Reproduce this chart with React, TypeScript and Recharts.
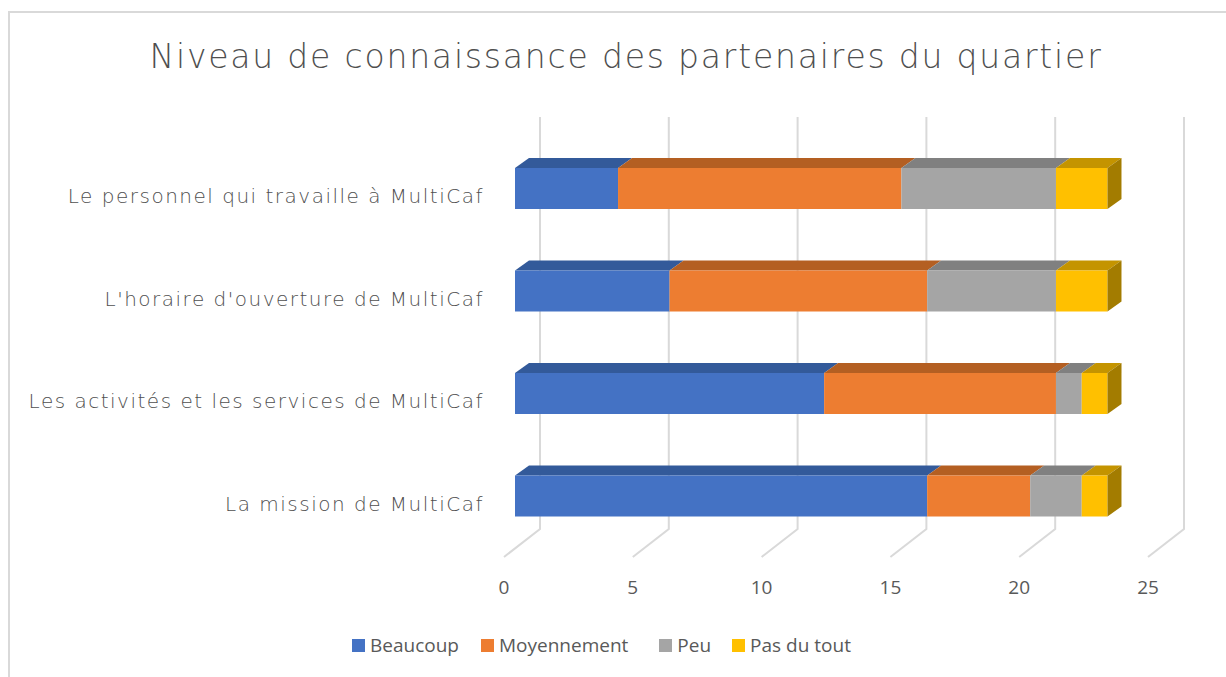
import React from "react";
import { BarChart, Bar, XAxis, YAxis, CartesianGrid, Legend } from "recharts";

const categories = [
  "Le personnel qui travaille à MultiCaf",
  "L'horaire d'ouverture de MultiCaf",
  "Les activités et les services de MultiCaf",
  "La mission de MultiCaf",
];
const beaucoup = [4, 6, 12, 16];
const moyennement = [11, 10, 9, 4];
const peu = [6, 5, 1, 2];
const pasDuTout = [2, 2, 1, 1];
const xTicks = [0, 5, 10, 15, 20, 25];
const title = "Niveau de connaissance des partenaires du quartier";

const series = [
  { key: "beaucoup", name: "Beaucoup", front: "#4472C4", top: "#335A9A", side: "#2F5597" },
  { key: "moyennement", name: "Moyennement", front: "#ED7D31", top: "#B45F22", side: "#B45F22" },
  { key: "peu", name: "Peu", front: "#A5A5A5", top: "#808080", side: "#7A7A7A" },
  { key: "pasDuTout", name: "Pas du tout", front: "#FFC000", top: "#C49400", side: "#A37C00" },
];

const data = categories.map((name, i) => ({
  name,
  beaucoup: beaucoup[i],
  moyennement: moyennement[i],
  peu: peu[i],
  pasDuTout: pasDuTout[i],
}));

const DX = 14;
const DY = 10;
const TEXT = "#595959";
const FONT = "'DejaVu Sans', sans-serif";
const FONT2 = "'Open Sans', sans-serif";

const makeShape = (top: string, side: string, withSide: boolean) => (props: any) => {
  const { x, y, width, height, fill } = props;
  if (!width || width <= 0) return <g />;
  const topPts = `${x},${y} ${x + width},${y} ${x + width + DX},${y - DY} ${x + DX},${y - DY}`;
  const sidePts = `${x + width},${y} ${x + width + DX},${y - DY} ${x + width + DX},${y + height - DY} ${x + width},${y + height}`;
  return (
    <g>
      <polygon points={topPts} fill={top} />
      <rect x={x} y={y} width={width} height={height} fill={fill} />
      {withSide && <polygon points={sidePts} fill={side} />}
    </g>
  );
};

const gridLine = (p: any) => {
  const { x1, y1, y2 } = p;
  return (
    <path
      d={`M${x1 + 25},${y1 - 20} V${y2 - 18} L${x1 - 11},${y2 + 10}`}
      stroke="#D9D9D9"
      strokeWidth={2}
      fill="none"
    />
  );
};

const XTick = (props: any) => {
  const { x, y, payload } = props;
  return (
    <text x={x - 11} y={y + 47} textAnchor="middle" fill={TEXT} fontFamily={FONT2} fontSize={19}>
      {payload.value}
    </text>
  );
};

const YTick = (props: any) => {
  const { x, y, payload } = props;
  return (
    <text
      x={x}
      y={y + 15}
      textAnchor="end"
      fill="#4F4F4F"
      fontFamily={FONT}
      fontWeight={200}
      fontSize={20}
      letterSpacing={1.5}
    >
      {payload.value}
    </text>
  );
};

const LegendContent = () => (
  <div style={{ display: "flex", alignItems: "center", height: 30, paddingLeft: 352, fontFamily: FONT2, fontSize: 19, color: TEXT }}>
    {series.map((s, i) => (
      <div key={s.key} style={{ display: "flex", alignItems: "center", marginRight: i === 0 ? 22 : i === 1 ? 31 : 21 }}>
        <span style={{ display: "inline-block", width: 13, height: 13, background: s.front, marginRight: 5 }} />
        <span>{s.name}</span>
      </div>
    ))}
  </div>
);

export default function App() {
  return (
    <div style={{ position: "absolute", left: 0, top: 0, width: 1226, height: 677, overflow: "hidden", background: "#fff" }}>
      <div style={{ position: "absolute", left: 8, top: 11, width: 1300, height: 700, border: "2px solid #D9D9D9" }} />
      <div style={{ position: "absolute", left: 0, top: 0 }}>
        <BarChart
          width={1226}
          height={677}
          data={data}
          layout="vertical"
          margin={{ top: 137, right: 67, bottom: 17, left: 0 }}
          barSize={41}
        >
          <text
            x={626}
            y={68}
            textAnchor="middle"
            fill="#4F4F4F"
            fontFamily={FONT}
            fontWeight={200}
            fontSize={33}
            letterSpacing={1.8}
          >
            {title}
          </text>
          <CartesianGrid horizontal={false} vertical={gridLine} />
          <XAxis
            type="number"
            domain={[0, 25]}
            ticks={xTicks}
            tickLine={false}
            axisLine={false}
            tickSize={0}
            tickMargin={0}
            height={83}
            tick={<XTick />}
            interval={0}
          />
          <YAxis
            type="category"
            dataKey="name"
            width={515}
            tickLine={false}
            axisLine={false}
            tickSize={0}
            tickMargin={31}
            tick={<YTick />}
            interval={0}
          />
          <Legend
            verticalAlign="bottom"
            content={<LegendContent />}
            wrapperStyle={{ left: 0, width: 1226, height: 30 }}
          />
          {series.map((s, i) => (
            <Bar
              key={s.key}
              dataKey={s.key}
              name={s.name}
              stackId="a"
              fill={s.front}
              isAnimationActive={false}
              shape={makeShape(s.top, s.side, i === series.length - 1)}
            />
          ))}
        </BarChart>
      </div>
    </div>
  );
}
